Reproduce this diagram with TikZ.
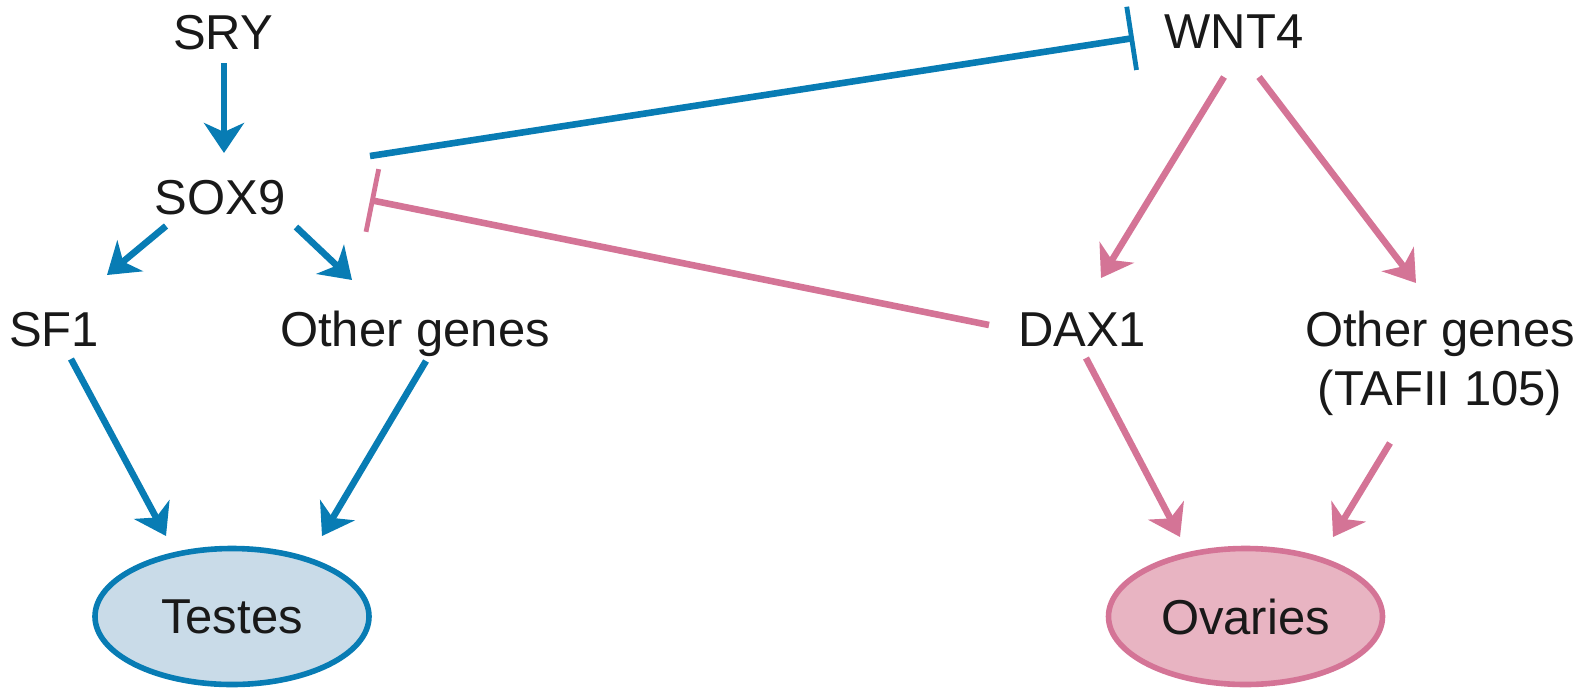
\documentclass[tikz,border=0pt]{standalone}
\usepackage{fontspec}
\setmainfont{Liberation Sans}
\usetikzlibrary{arrows.meta,shapes.geometric}
\definecolor{tblue}{RGB}{8,124,180}
\definecolor{opink}{RGB}{212,116,150}
\definecolor{tfill}{RGB}{201,219,232}
\definecolor{ofill}{RGB}{232,180,194}
\definecolor{txt}{RGB}{25,25,25}
\tikzset{
  lbl/.style={font=\fontsize{24.5pt}{29pt}\selectfont, text=txt, inner sep=0pt, outer sep=0pt, anchor=base},
  organ/.style={ellipse, line width=2.8pt, minimum width=137pt, minimum height=68pt, inner sep=0pt,
     font=\fontsize{24.5pt}{29pt}\selectfont, text=txt},
  act/.style={line width=3.3pt, -{Stealth[length=15pt, width=20pt, inset=4.5pt]}},
  inh/.style={line width=3.3pt, -{Bar[width=32pt, line width=2.4pt]}},
}
\begin{document}
\begin{tikzpicture}[x=0.5pt,y=-0.5pt]
\useasboundingbox (0,0) rectangle (1589,691);
% nodes
\node[lbl] (sry) at (223,49) {SRY};
\node[lbl] (sox9) at (220,214) {SOX9};
\node[lbl] (sf1) at (54,346) {SF1};
\node[lbl] (og1) at (415,346) {Other genes};
\node[lbl] (wnt4) at (1234,48) {WNT4};
\node[lbl] (dax1) at (1082,346) {DAX1};
\node[lbl] (og2) at (1440,346) {Other genes};
\node[lbl] (taf) at (1440,405) {(TAFII 105)};
\node[organ, draw=tblue, fill=tfill] (testes) at (232,616.5) {Testes};
\node[organ, draw=opink, fill=ofill] (ovaries) at (1245.5,616.5) {Ovaries};
% blue connectors
\draw[act, tblue] ([shift={(1,14)}]sry.base) -- ([shift={(4,-61)}]sox9.base);
\draw[act, tblue] ([shift={(-54,12)}]sox9.base) -- ([shift={(53,-71)}]sf1.base);
\draw[act, tblue] ([shift={(76,13)}]sox9.base) -- ([shift={(-63,-66)}]og1.base);
\draw[act, tblue] ([shift={(17,13)}]sf1.base) -- ([shift={(-66,-80.5)}]testes.center);
\draw[act, tblue] ([shift={(11,15)}]og1.base) -- ([shift={(90,-80.5)}]testes.center);
\draw[inh, tblue] ([shift={(150,-58)}]sox9.base) -- ([shift={(-100,-10)}]wnt4.base);
% pink connectors
\draw[inh, opink] ([shift={(-93,-21)}]dax1.base) -- ([shift={(150,-14)}]sox9.base);
\draw[act, opink] ([shift={(-10,29)}]wnt4.base) -- ([shift={(19,-68)}]dax1.base);
\draw[act, opink] ([shift={(25,29)}]wnt4.base) -- ([shift={(-24,-63)}]og2.base);
\draw[act, opink] ([shift={(4,12)}]dax1.base) -- ([shift={(-65.5,-79.5)}]ovaries.center);
\draw[act, opink] ([shift={(-50,38)}]taf.base) -- ([shift={(87.5,-79.5)}]ovaries.center);
\end{tikzpicture}
\end{document}
